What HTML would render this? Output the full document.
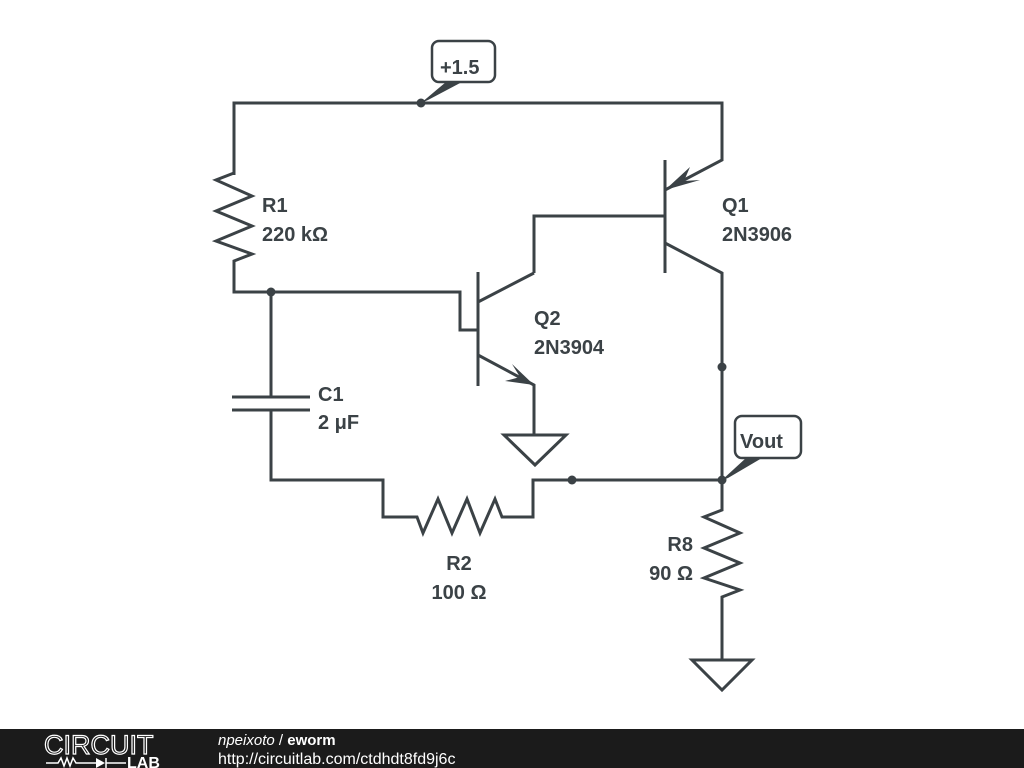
<!DOCTYPE html>
<html><head><style>
html,body{margin:0;padding:0;background:#fff;}
svg{display:block;}
text{font-family:"Liberation Sans",sans-serif;font-weight:bold;fill:#3b4246;}
</style></head><body>
<svg width="1024" height="768" viewBox="0 0 1024 768">
<g fill="none" stroke="#3b4246" stroke-width="3" stroke-linejoin="miter">
<polyline points="234,175 234,103 722,103 722,160 665,190"/>
<polyline points="234,173 216,180 252,196 216,211 252,226 216,241 252,254 234,261 234,292 460,292 460,330 478,330"/>
<line x1="665" y1="160" x2="665" y2="273"/>
<polyline points="665,243 722,273 722,480"/>
<polyline points="534,273 534,216 665,216"/>
<line x1="478" y1="272" x2="478" y2="386"/>
<polyline points="478,302 534,273"/>
<polyline points="478,355 534,385 534,435"/>
<polygon points="504,435 566,435 535,465"/>
<line x1="271" y1="292" x2="271" y2="397"/>
<line x1="232" y1="397" x2="310" y2="397"/>
<line x1="232" y1="410" x2="310" y2="410"/>
<polyline points="271,410 271,480 383,480 383,517 417,517 423,533 438,499 452,533 467,499 480,533 495,499 502,517 533,517 533,480 722,480"/>
<polyline points="722,480 722,510 704,517 740,533 704,548 740,563 704,578 740,590 722,597 722,660"/>
<polygon points="692,660 752,660 722,690"/>
<rect x="432" y="41" width="63" height="41" rx="7" stroke-width="2.5" fill="#fff"/>
<rect x="735" y="416" width="66" height="42" rx="7" stroke-width="2.5" fill="#fff"/>
</g>
<g fill="#3b4246">
<polygon points="421,103 446,82 462,82 428,100"/>
<polygon points="722,480 746,458 762,458 728,478"/>
<polygon points="665,190 690,167 684,181 700,180"/>
<polygon points="534,385 512,364 520,377 505,381"/>
<circle cx="421" cy="103" r="4.5"/>
<circle cx="271" cy="292" r="4.5"/>
<circle cx="722" cy="367" r="4.5"/>
<circle cx="572" cy="480" r="4.5"/>
<circle cx="722" cy="480" r="4.5"/>
</g>
<text x="440" y="74" font-size="20">+1.5</text>
<text x="740" y="448" font-size="20">Vout</text>
<text x="262" y="212" font-size="20">R1</text>
<text x="262" y="241" font-size="20">220 kΩ</text>
<text x="722" y="212" font-size="20">Q1</text>
<text x="722" y="241" font-size="20">2N3906</text>
<text x="534" y="325" font-size="20">Q2</text>
<text x="534" y="354" font-size="20">2N3904</text>
<text x="318" y="401" font-size="20">C1</text>
<text x="318" y="429" font-size="20">2 μF</text>
<text x="459" y="570" font-size="20" text-anchor="middle">R2</text>
<text x="459" y="599" font-size="20" text-anchor="middle">100 Ω</text>
<text x="693" y="551" font-size="20" text-anchor="end">R8</text>
<text x="693" y="580" font-size="20" text-anchor="end">90 Ω</text>
<rect x="0" y="729" width="1024" height="39" fill="#1b1b1b"/>
<text x="44" y="754" font-size="27" style="font-weight:normal;fill:none;stroke:#fff;stroke-width:1.2">CIRCUIT</text>
<g stroke="#fff" stroke-width="1.5" fill="none">
<polyline points="46,763 58,763 61,758 64,766 67,758 70,766 73,758 76,763 96,763"/>
<line x1="106" y1="758" x2="106" y2="768"/>
<line x1="106" y1="763" x2="126" y2="763"/>
</g>
<polygon points="96,758 96,768 105,763" fill="#fff"/>
<text x="127" y="768" font-size="16" style="fill:#fff">LAB</text>
<text x="218" y="745" font-size="15" style="fill:#fff;font-weight:normal;font-style:italic">npeixoto <tspan style="font-style:normal">/</tspan> <tspan style="font-style:normal;font-weight:bold">eworm</tspan></text>
<text x="218" y="764" font-size="16" style="fill:#fff;font-weight:normal">http://circuitlab.com/ctdhdt8fd9j6c</text>
</svg>
</body></html>
